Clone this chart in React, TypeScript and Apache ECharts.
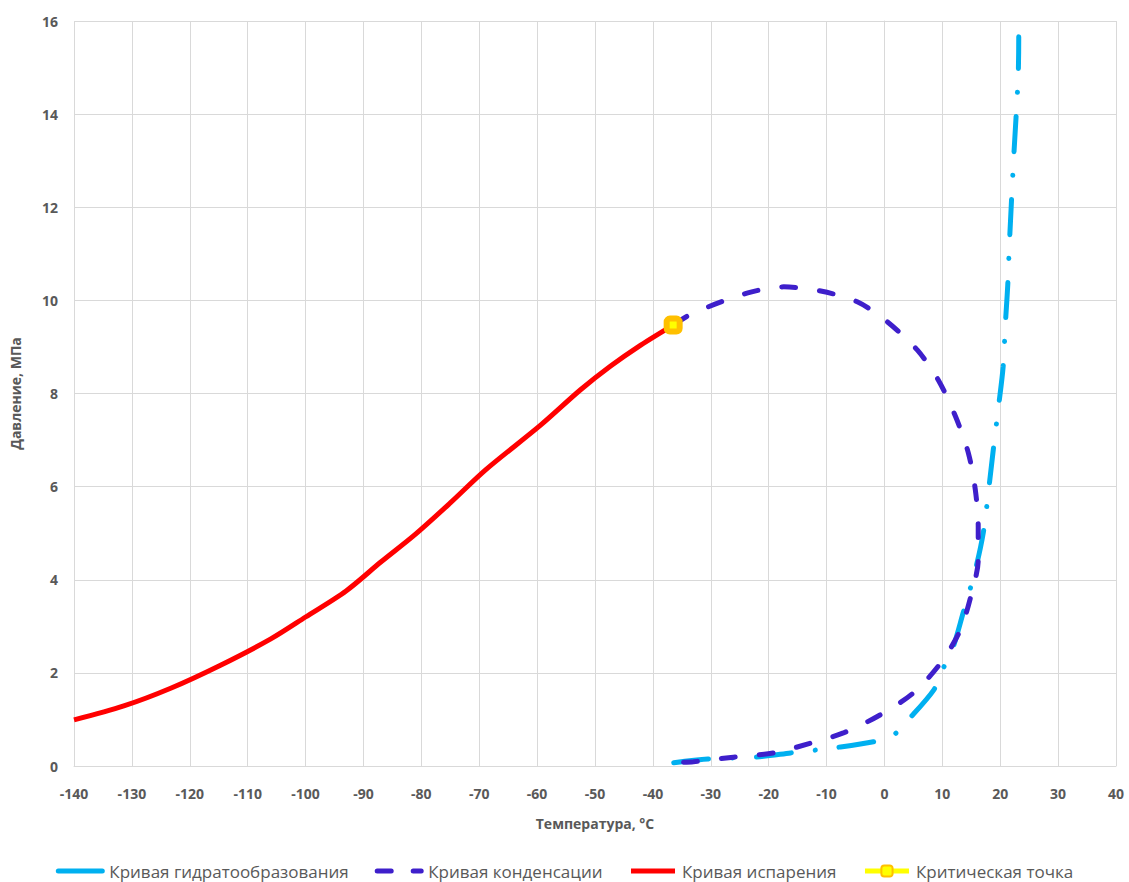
import React, { useEffect, useRef } from "react";
import * as echarts from "echarts";

const hydrateCurve: [number, number][] = [
  [-36.4, 0.07], [-30.5, 0.15], [-22.5, 0.19], [-16.2, 0.28], [-8.8, 0.39], [-1.9, 0.52],
  [1.6, 0.67], [4.1, 0.99], [8.5, 1.63], [10, 2.06], [11.7, 2.49], [13.6, 3.29], [15.7, 4.21],
  [17.1, 5.03], [18, 5.93], [18.8, 6.79], [19.7, 7.71], [20.5, 8.57], [20.9, 9.51], [21.3, 10.33],
  [21.6, 11.25], [22.3, 13.0], [23.1, 14.8], [23.2, 15.66],
];

const condensationCurve: [number, number][] = [
  [-34.7, 0.08], [-33, 0.09], [-26.1, 0.19], [-19.2, 0.28], [-12.8, 0.49], [-7.1, 0.71],
  [-0.7, 1.1], [5, 1.57], [9.7, 2.21], [13.1, 2.92], [15.2, 3.78], [16.2, 4.42], [16.2, 5.13],
  [15.7, 5.93], [14.5, 6.72], [12.3, 7.5], [9.3, 8.29], [5.7, 8.93], [0.5, 9.54], [-4.7, 9.97],
  [-11, 10.2], [-17.4, 10.29], [-23.6, 10.16], [-33, 9.73], [-36.5, 9.47],
];

const evaporationCurve: [number, number][] = [
  [-140, 0.99], [-131.4, 1.29], [-123.3, 1.67], [-114.6, 2.17], [-106, 2.73], [-100, 3.2],
  [-93, 3.76], [-87, 4.38], [-81, 4.98], [-75, 5.65], [-68.9, 6.36], [-59.4, 7.32],
  [-52.5, 8.08], [-47.3, 8.59], [-42.1, 9.04], [-36.5, 9.47],
];

const criticalPoint: [number, number][] = [[-36.5, 9.47]];

const seriesNames = [
  "Кривая гидратообразования",
  "Кривая конденсации",
  "Кривая испарения",
  "Критическая точка",
];

const FONT = "'Open Sans', sans-serif";
const TXT = "#595959";
const HIDE = { color: "rgba(0,0,0,0)", borderColor: "rgba(0,0,0,0)", borderWidth: 0 };

export default function App() {
  const ref = useRef<HTMLDivElement>(null);
  useEffect(() => {
    document.body.style.margin = "0";
    document.body.style.overflow = "hidden";
    if (!ref.current) return;
    const chart = echarts.init(ref.current, undefined, { renderer: "svg" });
    chart.setOption({
      animation: false,
      backgroundColor: "#fff",
      grid: { left: 73, right: 13, top: 21, bottom: 116, containLabel: false },
      legend: {
        top: 862,
        left: "center",
        itemWidth: 44,
        itemHeight: 14,
        itemGap: 26,
        padding: 0,
        textStyle: { color: TXT, fontSize: 17, lineHeight: 18, fontFamily: FONT, padding: [0, 0, 0, 2] },
        data: [
          { name: seriesNames[0], itemStyle: HIDE, lineStyle: { width: 5, type: "solid" } },
          { name: seriesNames[1], itemStyle: HIDE, lineStyle: { width: 5, type: [14, 22] } },
          { name: seriesNames[2], itemStyle: HIDE, lineStyle: { width: 5 } },
          { name: seriesNames[3], lineStyle: { width: 5 } },
        ],
      },
      xAxis: {
        type: "value",
        min: -140,
        max: 40,
        interval: 10,
        name: "Температура, °C",
        nameLocation: "middle",
        nameGap: 50,
        nameTextStyle: { color: TXT, fontSize: 14, fontWeight: "bold", fontFamily: FONT },
        axisLine: { show: true, onZero: false, lineStyle: { color: "#d9d9d9" } },
        axisTick: { show: false },
        axisLabel: { color: TXT, fontSize: 14, fontWeight: "bold", fontFamily: FONT, margin: 20 },
        splitLine: { show: true, lineStyle: { color: "#d9d9d9" } },
      },
      yAxis: {
        type: "value",
        min: 0,
        max: 16,
        interval: 2,
        name: "Давление, МПа",
        nameLocation: "middle",
        nameGap: 52,
        nameTextStyle: { color: TXT, fontSize: 14, fontWeight: "bold", fontFamily: FONT },
        axisLine: { show: true, lineStyle: { color: "#d9d9d9" } },
        axisTick: { show: true, length: 5, lineStyle: { color: "#d9d9d9" } },
        axisLabel: { color: TXT, fontSize: 14, fontWeight: "bold", fontFamily: FONT, margin: 16 },
        splitLine: { show: true, lineStyle: { color: "#d9d9d9" } },
      },
      series: [
        {
          name: seriesNames[0],
          type: "line",
          data: hydrateCurve,
          smooth: 0.3,
          showSymbol: false,
          symbol: "none",
          itemStyle: { color: "#00B0F0" },
          lineStyle: { color: "#00B0F0", width: 5, type: [35, 24, 0.1, 24], cap: "round" },
          z: 2,
        },
        {
          name: seriesNames[1],
          type: "line",
          data: condensationCurve,
          smooth: 0.3,
          showSymbol: false,
          symbol: "none",
          itemStyle: { color: "#3E1FCB" },
          lineStyle: { color: "#3E1FCB", width: 5, type: [14, 24], cap: "round" },
          z: 3,
        },
        {
          name: seriesNames[2],
          type: "line",
          data: evaporationCurve,
          smooth: 0.3,
          showSymbol: false,
          symbol: "none",
          itemStyle: { color: "#FF0000" },
          lineStyle: { color: "#FF0000", width: 5 },
          z: 4,
        },
        {
          name: seriesNames[3],
          type: "line",
          data: criticalPoint,
          symbol: "roundRect",
          symbolSize: 13,
          showSymbol: true,
          itemStyle: { color: "#FFFF00", borderColor: "#FFC000", borderWidth: 6 },
          lineStyle: { color: "#FFFF00", width: 5 },
          z: 5,
        },
      ],
    });
    return () => chart.dispose();
  }, []);
  return <div ref={ref} style={{ width: 1129, height: 882 }} />;
}
